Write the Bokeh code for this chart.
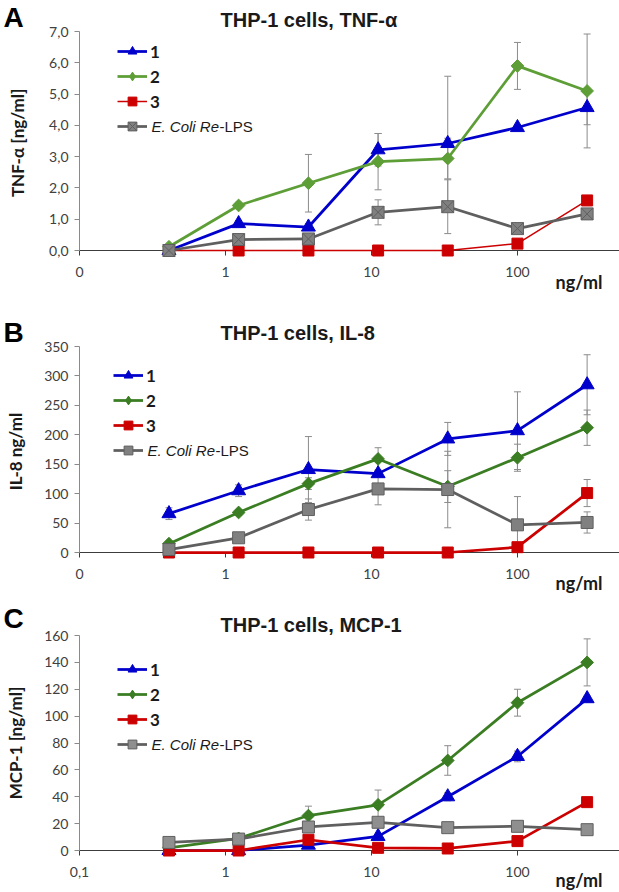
import math
import numpy as np
from bokeh.plotting import figure
from bokeh.models import (Range1d, FixedTicker, Legend, LegendItem, Label,
                          Whisker, TeeHead, ColumnDataSource)
from bokeh.core.properties import value
from bokeh.layouts import column
from bokeh.embed import file_html
from bokeh.resources import INLINE

# ---------------- data ----------------
conc = [0.41, 1.23, 3.7, 11.1, 33.3, 100, 300]
x_ticks = [0.1, 1, 10, 100]
x_labels_ab = ["0", "1", "10", "100"]
x_labels_c = ["0,1", "1", "10", "100"]
series_labels = ["1", "2", "3"]
lps_italic = "E. Coli Re"
lps_rest = "-LPS"
unit_text = "ng/ml"

tnf_1 = [0.0, 0.86, 0.75, 3.22, 3.42, 3.93, 4.57]
tnf_2 = [0.12, 1.44, 2.15, 2.84, 2.94, 5.90, 5.10]
tnf_3 = [0.0, 0.0, 0.0, 0.0, 0.0, 0.22, 1.60]
tnf_lps = [0.0, 0.35, 0.37, 1.22, 1.40, 0.70, 1.17]
tnf_1_err = [0.0, 0.10, 0.10, 0.52, 2.15, 0.10, 0.55]
tnf_2_err = [0.05, 0.10, 0.92, 0.90, 0.65, 0.75, 1.82]
tnf_3_err = [0.0, 0.0, 0.0, 0.0, 0.0, 0.05, 0.10]
tnf_lps_err = [0.0, 0.05, 0.05, 0.40, 0.86, 0.15, 0.10]
tnf_ticks = [0, 1, 2, 3, 4, 5, 6, 7]
tnf_tick_labels = ["0,0", "1,0", "2,0", "3,0", "4,0", "5,0", "6,0", "7,0"]

il8_1 = [66, 105, 141, 134, 193, 207, 285]
il8_2 = [15, 68, 117, 159, 112, 161, 212]
il8_3 = [0, 0, 0, 0, 0, 9, 101]
il8_lps = [5, 25, 73, 108, 107, 47, 51]
il8_1_err = [10, 10, 56, 5, 28, 66, 51]
il8_2_err = [3, 5, 10, 19, 27, 23, 30]
il8_3_err = [0, 0, 0, 0, 0, 5, 23]
il8_lps_err = [2, 3, 18, 27, 65, 48, 18]
il8_ticks = [0, 50, 100, 150, 200, 250, 300, 350]
il8_tick_labels = ["0", "50", "100", "150", "200", "250", "300", "350"]

mcp_1 = [0, 0, 4, 10.5, 40, 70, 113]
mcp_2 = [2, 9, 26, 34, 67, 110, 140]
mcp_3 = [0, 0, 8, 2, 1.5, 7, 36]
mcp_lps = [6, 8.5, 17.5, 21, 17, 18, 15.5]
mcp_1_err = [0, 0, 1, 1, 3, 4, 2]
mcp_2_err = [0.5, 3, 7, 11, 11, 10, 17.5]
mcp_3_err = [0, 0, 1, 0, 0, 0, 1]
mcp_lps_err = [0.5, 1, 1, 1, 1, 1, 1]
mcp_ticks = [0, 20, 40, 60, 80, 100, 120, 140, 160]
mcp_tick_labels = ["0", "20", "40", "60", "80", "100", "120", "140", "160"]

# ---------------- styles ----------------
BLUE = "#0000CC"
GREEN_A = "#5E9E37"
GREEN = "#3A7D22"
RED = "#CC0000"
GRAY_LINE = "#5F5F5F"
GRAY_FILL = "#808080"
ERR = "#8C8C8C"
AXIS_X = "#3C3C3C"
AXIS_Y = "#8A8A8A"
TICK_TXT = "#404040"
NUM_FONT = "Lato"
TITLE_FONT = "Liberation Sans"

X_START, X_END = 0.1, 500
FIG_W = 619
LEFT = 79
FRAME_W = FIG_W - LEFT


def make_panel(letter, title, ylabel, ymax, yticks, ylabels, xlabels,
               values, errors, green, red_w, lps_marker, lps_fill,
               height, top, frame_h, ylab_standoff, legend_x, legend_top,
               letter_y, title_y, unit_y):
    bottom = height - top - frame_h
    p = figure(width=FIG_W, height=height, x_axis_type="log",
               x_range=Range1d(X_START, X_END), y_range=Range1d(0, ymax),
               output_backend="svg", toolbar_location=None,
               min_border_left=LEFT, min_border_right=0,
               min_border_top=top, min_border_bottom=bottom)
    p.xgrid.visible = False
    p.ygrid.visible = False
    p.outline_line_color = None
    p.background_fill_color = "white"
    p.border_fill_color = "white"

    # convert frame-relative pixel offsets into data coordinates (for texts
    # placed outside the frame)
    lx0, lx1 = math.log10(X_START), math.log10(X_END)

    def dx(sx):
        return 10 ** (lx0 + sx / FRAME_W * (lx1 - lx0))

    def dy(sy):
        return sy / frame_h * ymax

    xa = p.xaxis[0]
    xa.ticker = FixedTicker(ticks=x_ticks, minor_ticks=[])
    xa.major_label_overrides = {t: l for t, l in zip(x_ticks, xlabels)}
    xa.axis_line_color = AXIS_X
    xa.axis_line_width = 1.2
    xa.major_tick_line_color = AXIS_X
    xa.major_tick_out = 5
    xa.major_tick_in = 0
    xa.minor_tick_line_color = None
    xa.major_label_text_font = NUM_FONT
    xa.major_label_text_font_size = "14px"
    xa.major_label_text_color = TICK_TXT
    xa.major_label_standoff = 11

    ya = p.yaxis[0]
    ya.ticker = FixedTicker(ticks=yticks, minor_ticks=[])
    ya.major_label_overrides = {t: l for t, l in zip(yticks, ylabels)}
    ya.axis_line_color = AXIS_Y
    ya.major_tick_line_color = AXIS_Y
    ya.major_tick_out = 5
    ya.major_tick_in = 0
    ya.minor_tick_line_color = None
    ya.major_label_text_font = NUM_FONT
    ya.major_label_text_font_size = "14px"
    ya.major_label_text_color = TICK_TXT
    ya.major_label_standoff = 6
    ya.axis_label = ylabel
    ya.axis_label_text_font = NUM_FONT
    ya.axis_label_text_font_style = "bold"
    ya.axis_label_text_font_size = "17px"
    ya.axis_label_text_color = "#1a1a1a"
    ya.axis_label_standoff = ylab_standoff

    specs = [
        (BLUE, 2.75, "triangle", 14, 0.0, BLUE, BLUE, "triangle"),
        (green, 2.75, "square", 9, np.pi / 4, green, green, "diamond"),
        (RED, red_w, "square", 11, 0.0, RED, RED, "square"),
        (GRAY_LINE, 2.75, lps_marker, 12, 0.0, lps_fill, GRAY_LINE, lps_marker),
    ]

    # error bars
    for vals, errs in zip(values, errors):
        xs = [c for c, e in zip(conc, errs) if e > 0]
        up = [v + e for v, e in zip(vals, errs) if e > 0]
        lo = [v - e for v, e in zip(vals, errs) if e > 0]
        src = ColumnDataSource(dict(x=xs, upper=up, lower=lo))
        w = Whisker(base="x", upper="upper", lower="lower", source=src,
                    line_color=ERR, line_width=1,
                    upper_head=TeeHead(size=7, line_color=ERR, line_width=1),
                    lower_head=TeeHead(size=7, line_color=ERR, line_width=1))
        p.add_layout(w)

    items = []
    for i, (vals, spec) in enumerate(zip(values, specs)):
        lc, lw, mk, ms, ang, fc, mlc, legmk = spec
        src = ColumnDataSource(dict(x=conc, y=vals))
        lr = p.line("x", "y", source=src, line_color=lc, line_width=lw)
        sr = p.scatter("x", "y", source=src, marker=mk, size=ms, angle=ang,
                       fill_color=fc, line_color=mlc, line_width=1)
        lr.level = "overlay"
        sr.level = "overlay"
        rends = [lr, sr]
        if legmk != mk:
            # legend-only marker (zero size in the plot)
            kr = p.scatter("x", "y", source=src, marker=legmk, size=0,
                           fill_color=fc, line_color=mlc, line_width=1)
            rends = [lr, kr]
        lab = series_labels[i] if i < 3 else " "
        items.append(LegendItem(label=lab, renderers=rends))

    gw, gh, sp = 30, 22, 3
    leg_h = 4 * gh + 3 * sp
    legend = Legend(items=items, location=(legend_x, legend_top - leg_h),
                    glyph_width=gw, glyph_height=gh, label_height=gh,
                    label_width=10, label_standoff=3, spacing=sp,
                    padding=0, margin=0, background_fill_alpha=0,
                    border_line_color=None, label_text_font=NUM_FONT,
                    label_text_font_style="bold", label_text_font_size="17px",
                    label_text_color="#1a1a1a")
    p.add_layout(legend)

    row4 = legend_top - 3 * (gh + sp) - gh / 2
    tx = legend_x + gw + 4
    p.add_layout(Label(x=tx, y=row4, x_units="screen", y_units="screen",
                       text=lps_italic, text_font=TITLE_FONT,
                       text_font_style="italic", text_font_size="15px",
                       text_color="#1a1a1a", text_baseline="middle",
                       text_align="left"))
    p.add_layout(Label(x=tx + 68, y=row4, x_units="screen", y_units="screen",
                       text=lps_rest, text_font=TITLE_FONT,
                       text_font_size="15px", text_color="#1a1a1a",
                       text_baseline="middle", text_align="left"))

    # texts outside the frame: drawn as unclipped text glyphs
    def outer_text(sx, sy, txt, font, size, style, color):
        r = p.text(x=[dx(sx)], y=[dy(sy)], text=[txt],
                   text_font=value(font), text_font_size=value(size),
                   text_font_style=style, text_color=color,
                   text_baseline="middle", text_align="left")
        r.level = "overlay"
        return r

    outer_text(141, title_y, title, TITLE_FONT, "20px", "bold", "#1a1a1a")
    outer_text(-76, letter_y, letter, TITLE_FONT, "28px", "bold", "black")
    outer_text(476, unit_y, unit_text, NUM_FONT, "18px", "bold", "#1a1a1a")
    return p


pA = make_panel("A", "THP-1 cells, TNF-\u03b1", "TNF-\u03b1  [ng/ml]", 7,
                tnf_ticks, tnf_tick_labels, x_labels_ab,
                [tnf_1, tnf_2, tnf_3, tnf_lps],
                [tnf_1_err, tnf_2_err, tnf_3_err, tnf_lps_err],
                GREEN_A, 1.5, "square_x", GRAY_FILL,
                height=298, top=31, frame_h=219, ylab_standoff=18,
                legend_x=38, legend_top=210,
                letter_y=233, title_y=231, unit_y=-31)

pB = make_panel("B", "THP-1 cells, IL-8", "IL-8  ng/ml", 350,
                il8_ticks, il8_tick_labels, x_labels_ab,
                [il8_1, il8_2, il8_3, il8_lps],
                [il8_1_err, il8_2_err, il8_3_err, il8_lps_err],
                GREEN, 2.75, "square", GRAY_FILL,
                height=298, top=48, frame_h=206, ylab_standoff=15,
                legend_x=34, legend_top=188,
                letter_y=220, title_y=220, unit_y=-30)

pC = make_panel("C", "THP-1 cells, MCP-1", "MCP-1 [ng/ml]", 160,
                mcp_ticks, mcp_tick_labels, x_labels_c,
                [mcp_1, mcp_2, mcp_3, mcp_lps],
                [mcp_1_err, mcp_2_err, mcp_3_err, mcp_lps_err],
                GREEN, 2.75, "square", "#8F8F8F",
                height=296, top=39, frame_h=215, ylab_standoff=15,
                legend_x=38, legend_top=192,
                letter_y=232, title_y=226, unit_y=-29)

layout = column(pA, pB, pC, spacing=0)
open("out.html", "w").write(file_html(layout, INLINE))
